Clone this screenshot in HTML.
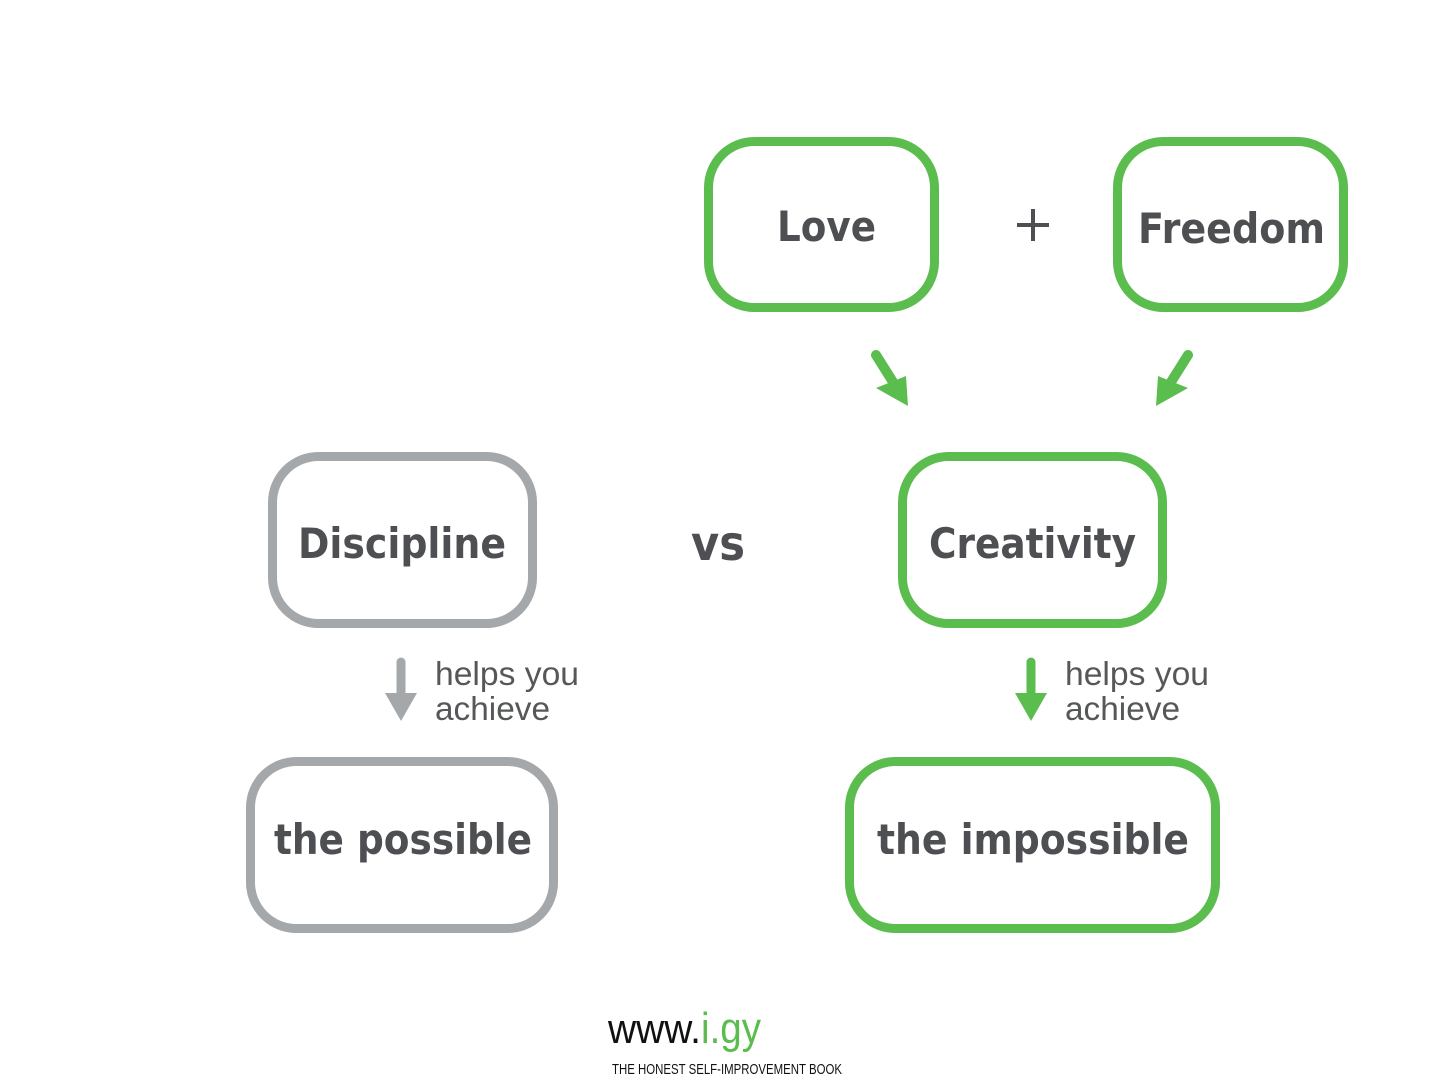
<!DOCTYPE html>
<html><head><meta charset="utf-8"><style>
html,body{margin:0;padding:0;background:#fff;}
svg{display:block}
.t{font-family:"DejaVu Sans","Liberation Sans",sans-serif;font-weight:bold;fill:#4d4f52}
.h{font-family:"Liberation Sans",sans-serif;fill:#555759;font-size:33px}
</style></head><body>
<svg width="1436" height="1089" viewBox="0 0 1436 1089" xmlns="http://www.w3.org/2000/svg">
<g fill="none" stroke-width="9">
<rect x="708.5" y="141.5" width="226" height="166" rx="46" stroke="#5bbd4e"/>
<rect x="1117.5" y="141.5" width="226" height="166" rx="46" stroke="#5bbd4e"/>
<rect x="272.5" y="456.5" width="260" height="167" rx="46" stroke="#a4a8aa"/>
<rect x="902.5" y="456.5" width="260" height="167" rx="46" stroke="#5bbd4e"/>
<rect x="250.5" y="761.5" width="303" height="167" rx="46" stroke="#a4a8aa"/>
<rect x="849.5" y="761.5" width="366" height="167" rx="46" stroke="#5bbd4e"/>
</g>
<text class="t" x="777" y="241" font-size="42" textLength="99" lengthAdjust="spacingAndGlyphs">Love</text>
<text class="t" x="1138" y="243" font-size="42" textLength="187" lengthAdjust="spacingAndGlyphs">Freedom</text>
<text class="t" x="298" y="558" font-size="42" textLength="208" lengthAdjust="spacingAndGlyphs">Discipline</text>
<text class="t" x="929" y="558" font-size="42" textLength="207" lengthAdjust="spacingAndGlyphs">Creativity</text>
<text class="t" x="274" y="854" font-size="42" textLength="258" lengthAdjust="spacingAndGlyphs">the possible</text>
<text class="t" x="877" y="854" font-size="42" textLength="312" lengthAdjust="spacingAndGlyphs">the impossible</text>
<text class="t" x="691" y="560" font-size="48" textLength="54" lengthAdjust="spacingAndGlyphs">vs</text>
<g stroke="#4d4f52" stroke-width="4">
<line x1="1017" y1="225" x2="1049" y2="225"/>
<line x1="1033" y1="209" x2="1033" y2="241"/>
</g>
<!-- diagonal arrows -->
<g stroke="#5bbd4e" stroke-width="10" stroke-linecap="round" fill="#5bbd4e">
<line x1="876" y1="355" x2="898" y2="390"/>
<line x1="1188" y1="355" x2="1166" y2="390"/>
</g>
<polygon points="876,388 906,376 908,406" fill="#5bbd4e"/>
<polygon points="1188,388 1158,376 1156,406" fill="#5bbd4e"/>
<!-- down arrows -->
<line x1="401" y1="662" x2="401" y2="700" stroke="#a4a8aa" stroke-width="9" stroke-linecap="round"/>
<polygon points="385,693 417,693 401,721" fill="#a4a8aa"/>
<line x1="1031" y1="662" x2="1031" y2="700" stroke="#5bbd4e" stroke-width="9" stroke-linecap="round"/>
<polygon points="1015,693 1047,693 1031,721" fill="#5bbd4e"/>
<text class="h" x="435" y="685" textLength="144" lengthAdjust="spacingAndGlyphs">helps you</text>
<text class="h" x="435" y="720" textLength="115" lengthAdjust="spacingAndGlyphs">achieve</text>
<text class="h" x="1065" y="685" textLength="144" lengthAdjust="spacingAndGlyphs">helps you</text>
<text class="h" x="1065" y="720" textLength="115" lengthAdjust="spacingAndGlyphs">achieve</text>
<text x="608" y="1043" font-size="42" font-family="Liberation Sans,sans-serif" fill="#111" textLength="93" lengthAdjust="spacingAndGlyphs">www.</text>
<text x="701" y="1043" font-size="44" font-family="Liberation Sans,sans-serif" fill="#5bbd4e" textLength="60" lengthAdjust="spacingAndGlyphs">i.gy</text>
<text x="612" y="1074" font-size="15" font-family="Liberation Sans,sans-serif" fill="#111" textLength="230" lengthAdjust="spacingAndGlyphs">THE HONEST SELF-IMPROVEMENT BOOK</text>
</svg>
</body></html>
